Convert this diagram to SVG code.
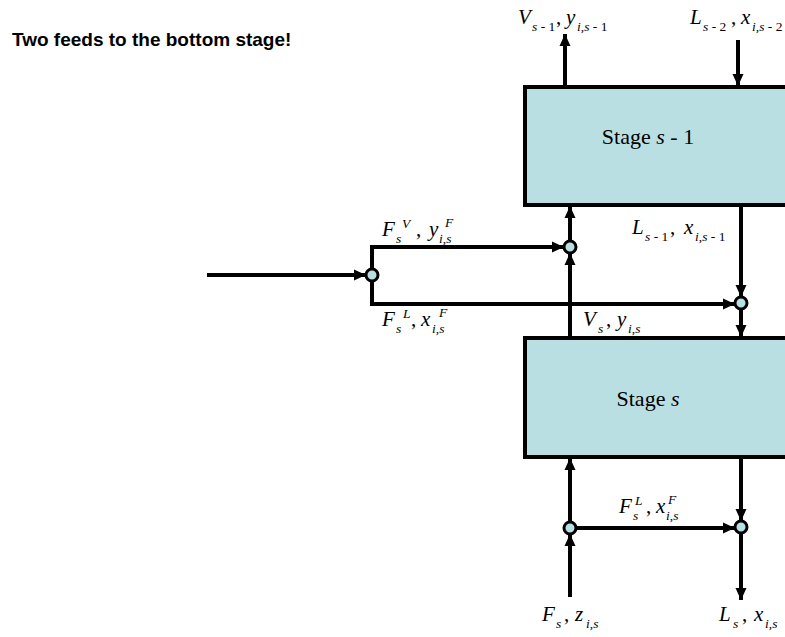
<svg xmlns="http://www.w3.org/2000/svg" width="785" height="637" viewBox="0 0 785 637">
<style>
.box{fill:#badfe3;stroke:#000;stroke-width:4}
.ln{fill:none;stroke:#000;stroke-width:4;marker-end:url(#ah)}
.mx{fill:#badfe3;stroke:#000;stroke-width:3}
.m{font-family:"Liberation Serif",serif;font-style:italic;font-size:21px;fill:#000}
.sb{font-family:"Liberation Serif",serif;font-style:italic;font-size:13.5px;fill:#000}
.n{font-style:normal}
.st{font-family:"Liberation Serif",serif;font-size:22px;fill:#000}
.tt{font-family:"Liberation Sans",Arial,sans-serif;font-weight:bold;font-size:19px;fill:#000}
</style>
<defs>
<marker id="ah" markerUnits="userSpaceOnUse" markerWidth="12" markerHeight="12" refX="12" refY="6" orient="auto">
<path d="M0,0.5 L12,6 L0,11.5 Z" fill="#000"/>
</marker>
</defs>
<text class="tt" x="12" y="46">Two feeds to the bottom stage!</text>
<g id="connectors">
<line class="ln" x1="565" y1="87" x2="565" y2="34"/>
<line class="ln" x1="738" y1="40" x2="738" y2="86"/>
<line class="ln" x1="207" y1="275" x2="366" y2="275"/>
<path class="ln" d="M372,269 V247 H564"/>
<path class="ln" d="M372,281 V304 H735"/>
<line class="ln" x1="570" y1="338" x2="570" y2="253"/>
<line class="ln" x1="570" y1="241" x2="570" y2="206"/>
<line class="ln" x1="741" y1="205" x2="741" y2="297"/>
<line class="ln" x1="741" y1="309" x2="741" y2="337"/>
<line class="ln" x1="570" y1="522" x2="570" y2="458"/>
<line class="ln" x1="570" y1="597" x2="570" y2="534"/>
<line class="ln" x1="576" y1="528" x2="735" y2="528"/>
<line class="ln" x1="741" y1="457" x2="741" y2="521"/>
<line class="ln" x1="741" y1="533" x2="741" y2="600"/>
</g>
<g id="stage-s-1">
<rect class="box" x="525" y="87" width="275" height="118"/>
<text class="st" x="648" y="144" text-anchor="middle">Stage <tspan font-style="italic">s</tspan> - 1</text>
</g>
<g id="stage-s">
<rect class="box" x="525" y="338" width="275" height="119"/>
<text class="st" x="648" y="406" text-anchor="middle">Stage <tspan font-style="italic">s</tspan></text>
</g>
<g id="mixer-feed"><circle class="mx" cx="372" cy="275" r="6"/></g>
<g id="mixer-v"><circle class="mx" cx="570" cy="247" r="6"/></g>
<g id="mixer-l"><circle class="mx" cx="741" cy="303" r="6"/></g>
<g id="mixer-bl"><circle class="mx" cx="570" cy="528" r="6"/></g>
<g id="mixer-br"><circle class="mx" cx="741" cy="527" r="6"/></g>
<g id="labels">
<text class="m" x="518" y="24">V</text><text class="sb" x="532" y="31">s<tspan class="n"> - 1</tspan></text>
<text class="m n" x="556" y="24">,</text>
<text class="m" x="566" y="24">y</text><text class="sb" x="577" y="31">i<tspan class="n">,</tspan>s<tspan class="n"> - 1</tspan></text>

<text class="m" x="690" y="24">L</text><text class="sb" x="703" y="31">s<tspan class="n"> - 2</tspan></text>
<text class="m n" x="731" y="24">,</text>
<text class="m" x="741" y="24">x</text><text class="sb" x="752" y="31">i<tspan class="n">,</tspan>s<tspan class="n"> - 2</tspan></text>

<text class="m" x="382" y="236">F</text><text class="sb" x="396" y="243">s</text><text class="sb" x="402" y="228">V</text>
<text class="m n" x="416" y="236">,</text>
<text class="m" x="429" y="236">y</text><text class="sb" x="439" y="243">i<tspan class="n">,</tspan>s</text><text class="sb" x="445" y="227">F</text>

<text class="m" x="382" y="326">F</text><text class="sb" x="396" y="333">s</text><text class="sb" x="403" y="318">L</text>
<text class="m n" x="411" y="326">,</text>
<text class="m" x="421" y="326">x</text><text class="sb" x="432" y="333">i<tspan class="n">,</tspan>s</text><text class="sb" x="439" y="317">F</text>

<text class="m" x="632" y="234">L</text><text class="sb" x="645" y="241">s<tspan class="n"> - 1</tspan></text>
<text class="m n" x="670" y="234">,</text>
<text class="m" x="684" y="234">x</text><text class="sb" x="695" y="241">i<tspan class="n">,</tspan>s<tspan class="n"> - 1</tspan></text>

<text class="m" x="583" y="326">V</text><text class="sb" x="598" y="333">s</text>
<text class="m n" x="606" y="326">,</text>
<text class="m" x="617" y="326">y</text><text class="sb" x="628" y="333">i<tspan class="n">,</tspan>s</text>

<text class="m" x="619" y="513">F</text><text class="sb" x="633" y="520">s</text><text class="sb" x="635" y="505">L</text>
<text class="m n" x="646" y="513">,</text>
<text class="m" x="656" y="513">x</text><text class="sb" x="666" y="520">i<tspan class="n">,</tspan>s</text><text class="sb" x="668" y="504">F</text>

<text class="m" x="542" y="621">F</text><text class="sb" x="556" y="628">s</text>
<text class="m n" x="564" y="621">,</text>
<text class="m" x="575" y="621">z</text><text class="sb" x="586" y="628">i<tspan class="n">,</tspan>s</text>

<text class="m" x="719" y="621">L</text><text class="sb" x="733" y="628">s</text>
<text class="m n" x="742" y="621">,</text>
<text class="m" x="754" y="621">x</text><text class="sb" x="765" y="628">i<tspan class="n">,</tspan>s</text>
</g>
</svg>
